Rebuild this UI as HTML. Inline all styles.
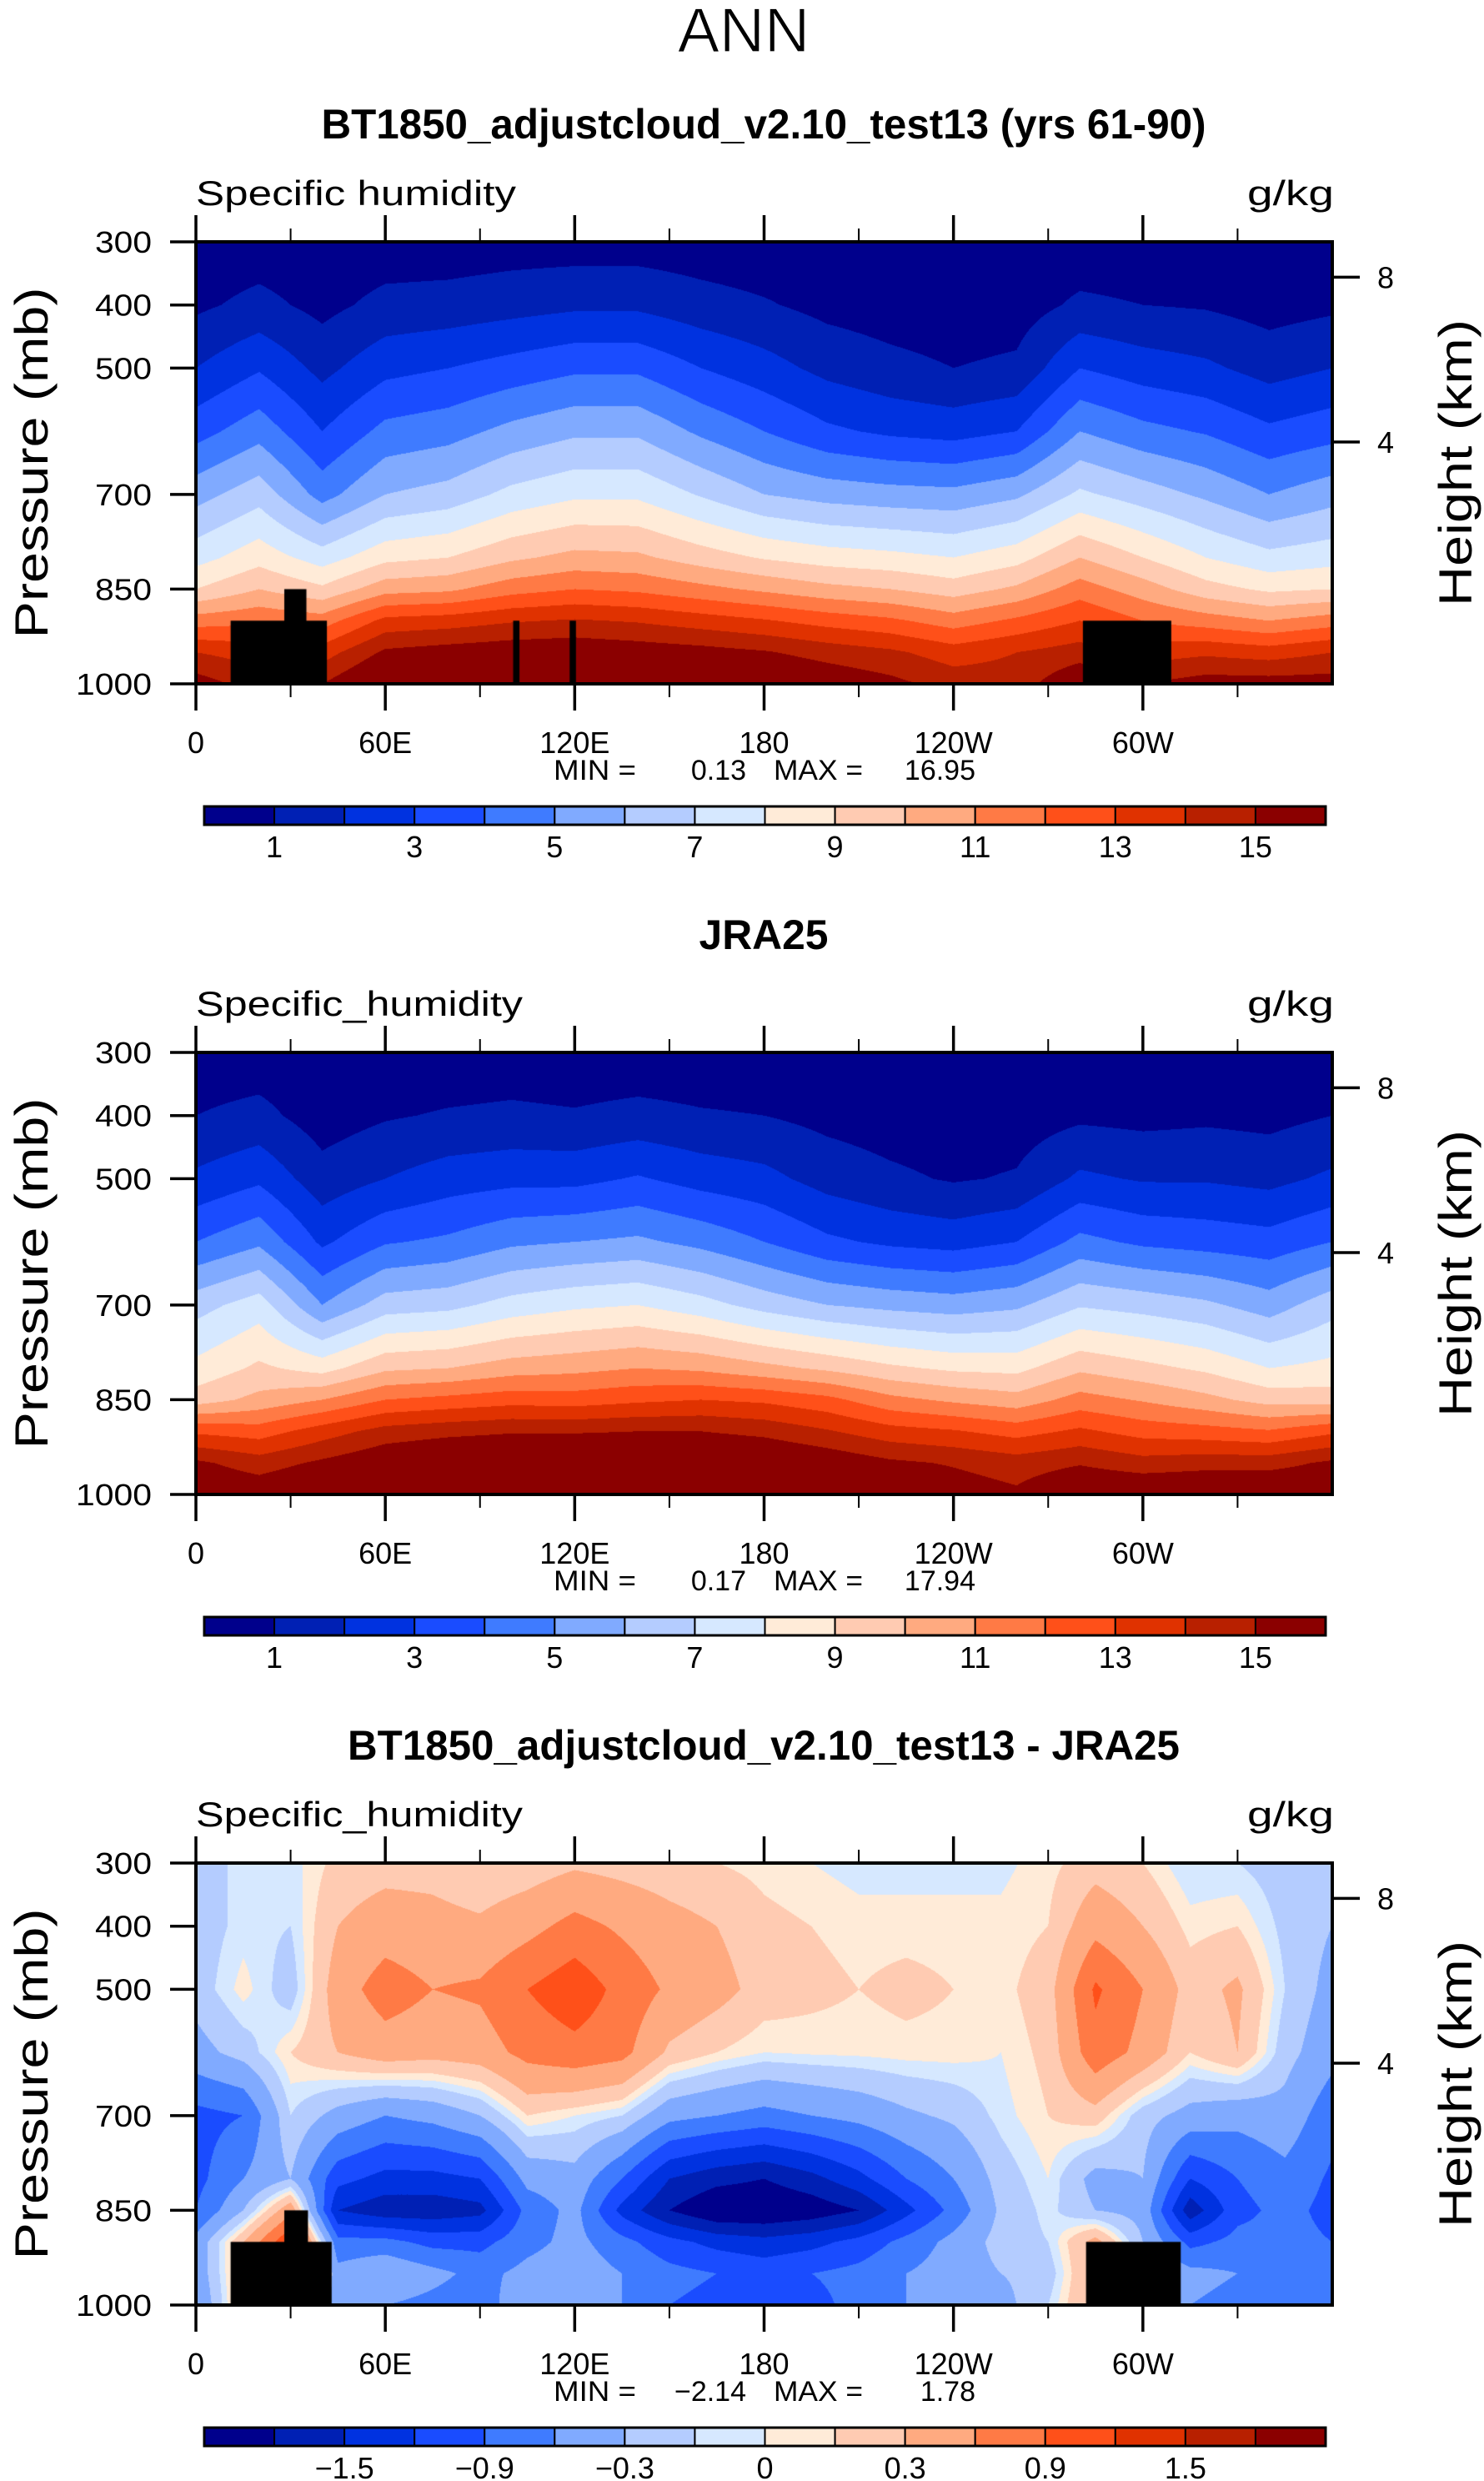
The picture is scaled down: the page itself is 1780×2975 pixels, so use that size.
<!DOCTYPE html>
<html><head><meta charset="utf-8">
<style>
html,body{margin:0;padding:0;background:#fff;}
body{width:1780px;height:2975px;position:relative;overflow:hidden;font-family:"Liberation Sans",sans-serif;}
canvas{position:absolute;}
svg{position:absolute;left:0;top:0;}
</style></head>
<body>
<canvas id="c0" width="1363" height="530" style="left:235px;top:290px"></canvas>
<canvas id="c1" width="1363" height="530" style="left:235px;top:1262px"></canvas>
<canvas id="c2" width="1363" height="530" style="left:235px;top:2234px"></canvas>
<svg id="ov" width="1780" height="2975" xmlns="http://www.w3.org/2000/svg">
<text x="892" y="62" font-size="75" text-anchor="middle" font-family="Liberation Sans, sans-serif" fill="#000" stroke="#fff" stroke-width="1.2">ANN</text>
</svg>
<script>
const lons=[0,20,40,60,80,100,120,140,160,180,200,220,240,260,280,300,320,340,360];
const pLevels=[300,400,500,600,700,800,850,900,950,1000];
const modelQ=[
[0.3,0.8,2.0,3.6,5.6,7.6,9.0,11.5,14.0,15.5],
[0.4,1.3,2.9,4.6,6.6,8.6,10.0,11.8,13.5,14.5],
[0.3,0.7,1.7,3.0,4.6,7.5,9.2,11.5,13.5,15.0],
[0.4,1.3,2.7,4.3,6.0,8.7,10.6,13.3,15.2,16.6],
[0.4,1.4,3.0,4.6,6.4,9.0,10.8,13.5,15.5,16.7],
[0.5,1.6,3.4,5.3,7.3,9.8,11.6,13.9,15.7,16.8],
[0.5,1.8,3.8,5.8,7.8,10.3,12.0,14.1,15.8,16.8],
[0.5,1.8,3.8,5.8,7.8,10.2,11.8,13.9,15.6,16.8],
[0.4,1.4,3.0,4.8,6.9,9.5,11.3,13.5,15.4,16.6],
[0.3,1.1,2.4,4.0,6.0,8.9,10.8,13.1,15.1,16.3],
[0.3,0.7,1.7,3.2,5.6,8.5,10.3,12.6,14.6,15.8],
[0.2,0.5,1.3,2.8,5.4,8.3,10.0,12.2,14.2,15.3],
[0.2,0.4,1.0,2.6,5.3,8.0,9.5,11.5,13.5,14.6],
[0.2,0.5,1.2,3.0,5.8,8.6,10.2,12.2,14.0,14.5],
[0.3,1.2,3.0,5.0,7.2,10.0,11.5,13.0,14.5,16.0],
[0.3,1.0,2.5,4.3,6.5,9.0,10.5,12.0,13.5,15.0],
[0.3,0.9,2.2,3.9,5.8,8.0,9.4,11.5,13.8,15.5],
[0.2,0.6,1.6,3.2,5.0,7.3,8.8,11.0,13.5,15.5],
[0.3,0.8,2.0,3.6,5.6,7.6,9.0,11.5,14.0,15.5]];
const obsQ=[
[0.4,1.0,2.2,4.0,6.6,8.3,9.5,12.8,15.2,16.1],
[0.4,1.3,2.8,4.8,7.5,9.2,10.3,12.5,14.5,15.8],
[0.3,0.5,1.4,2.8,5.0,8.6,11.0,13.5,15.2,16.4],
[0.3,0.9,2.0,3.9,6.5,9.8,12.0,14.4,15.9,17.1],
[0.3,1.1,2.5,4.2,6.7,10.0,12.3,14.7,16.3,17.2],
[0.4,1.2,2.7,4.8,7.4,10.5,12.6,14.9,16.4,17.2],
[0.3,1.1,2.7,5.0,7.8,10.7,12.5,14.9,16.4,17.2],
[0.3,1.3,3.1,5.2,8.0,11.0,12.8,15.0,16.4,17.3],
[0.3,1.1,2.6,4.7,7.4,10.8,13.0,15.0,16.5,17.4],
[0.3,1.0,2.3,4.0,6.6,10.3,12.8,14.7,16.3,17.3],
[0.3,0.7,1.6,3.2,6.0,9.8,12.3,14.1,15.8,16.7],
[0.2,0.5,1.2,2.8,5.7,9.2,11.3,13.4,15.2,16.1],
[0.2,0.4,0.9,2.6,5.5,8.8,10.8,13.1,14.9,15.6],
[0.2,0.5,1.1,3.0,5.8,8.7,10.4,12.6,14.5,15.2],
[0.2,0.8,2.2,4.3,6.9,9.8,11.4,13.2,14.9,16.2],
[0.2,0.7,1.9,3.8,6.6,9.3,10.9,12.6,14.4,16.2],
[0.3,0.8,1.9,3.6,6.2,8.8,10.3,12.4,14.6,16.3],
[0.3,0.7,1.7,3.4,5.5,8.0,9.6,12.1,14.6,16.3],
[0.4,1.0,2.2,4.0,6.6,8.3,9.5,12.8,15.2,16.1]];
const diffLons=[0,15,30,45,60,75,90,105,120,135,150,165,180,195,210,225,240,255,270,285,300,315,330,345,360];
const diffQ=[
[-0.2,-0.2,-0.2,-0.4,-1.0,-1.0,-0.9,-0.5,-0.5,-0.6],
[-0.05,-0.05,0.05,-0.2,-0.9,-0.6,-0.3,0.3,0.3,0.3],
[-0.05,-0.1,-0.2,0.1,-0.1,-0.3,0.5,1.2,1.2,1.2],
[0.15,0.3,0.45,0.3,-0.4,-1.1,-1.5,-0.8,-0.5,-0.6],
[0.2,0.45,0.75,0.45,-0.6,-1.3,-1.7,-0.8,-0.3,-0.6],
[0.2,0.4,0.6,0.4,-0.5,-1.3,-1.7,-1.0,-0.5,-0.7],
[0.1,0.35,0.65,0.45,-0.3,-1.2,-1.6,-1.0,-0.7,-0.8],
[0.15,0.5,0.9,0.7,0.1,-0.5,-0.8,-0.7,-0.5,-0.3],
[0.25,0.7,1.1,0.8,0.0,-0.4,-0.5,-0.5,-0.4,-0.4],
[0.2,0.55,0.8,0.7,-0.1,-0.9,-1.3,-0.8,-0.6,-0.6],
[0.15,0.4,0.55,0.25,-0.5,-1.5,-1.8,-1.1,-0.8,-0.9],
[0.1,0.3,0.4,0.1,-0.6,-1.7,-2.1,-1.3,-0.9,-1.0],
[0.05,0.15,0.2,0.0,-0.7,-1.8,-2.1,-1.4,-1.0,-1.0],
[0.0,0.1,0.15,0.02,-0.6,-1.6,-2.0,-1.3,-0.9,-1.0],
[-0.05,0.05,0.1,0.03,-0.5,-1.3,-1.8,-1.1,-0.8,-0.8],
[-0.05,0.05,0.15,0.05,-0.35,-0.9,-1.3,-0.8,-0.6,-0.6],
[-0.05,0.05,0.1,0.05,-0.25,-0.6,-0.8,-0.5,-0.45,-0.5],
[-0.03,0.03,0.05,0.0,-0.05,-0.2,-0.25,-0.2,-0.3,-0.4],
[0.05,0.1,0.2,0.15,0.1,0.0,-0.05,-0.1,-0.2,-0.1],
[0.2,0.5,0.95,0.8,0.2,-0.4,-0.3,0.4,0.4,0.4],
[0.1,0.3,0.6,0.5,-0.2,-0.3,-0.4,-0.3,-0.3,-0.3],
[-0.1,0.05,0.2,0.1,-0.4,-1.2,-1.7,-1.0,-0.5,-0.6],
[-0.1,0.1,0.35,0.3,-0.5,-0.9,-1.0,-0.8,-0.6,-0.7],
[-0.2,-0.15,-0.1,-0.2,-0.4,-0.7,-0.8,-0.8,-0.7,-0.8],
[-0.2,-0.3,-0.4,-0.5,-0.8,-0.95,-1.0,-0.9,-0.8,-0.9]];
const qLevels=[1,2,3,4,5,6,7,8,9,10,11,12,13,14,15];
const diffLevels=[-1.8,-1.5,-1.2,-0.9,-0.6,-0.3,-0.1,0,0.1,0.3,0.6,0.9,1.2,1.5,1.8];
const qBarLabels=['1','','3','','5','','7','','9','','11','','13','','15'];
const diffBarLabels=['','\u22121.5','','\u22120.9','','\u22120.3','','0','','0.3','','0.9','','1.5',''];
const palette=['#00008c','#0020b4','#0032e0','#1a4cff','#3f7bff','#80aaff','#b4ccff','#d6e8ff','#ffebd8','#ffcbb2','#ffaa80','#ff7a45','#ff5019','#e03200','#b82000','#8b0000'];
const topoModel=[[11,41.5,900],[28,35,850],[100.5,102.5,900],[118.4,120.4,900],[281,309,900]];
const topoObs=[];
const topoDiff=[[11,43,900],[28,35.5,850],[282,312,900]];
const pTicks=[300,400,500,700,850,1000];
const hTicks=['8','4'];
const hTickP=[356,617];
const lonMajor=[0,60,120,180,240,300];
const lonMinor=[30,90,150,210,270,330];
const lonLabels=['0','60E','120E','180','120W','60W'];
const minVals=['0.13','0.17','\u22122.14'];
const maxVals=['16.95','17.94','1.78'];

const X0=235,W=1363,H=530;
const NS='http://www.w3.org/2000/svg';
const svg=document.getElementById('ov');
function xOf(lon){return X0+lon/360*W;}
function mk(tag,attrs,txt){const e=document.createElementNS(NS,tag);for(const k in attrs)e.setAttribute(k,attrs[k]);if(txt!==undefined)e.textContent=txt;svg.appendChild(e);return e;}
function hexRgb(h){return [parseInt(h.substr(1,2),16),parseInt(h.substr(3,2),16),parseInt(h.substr(5,2),16)];}
const rgb=palette.map(hexRgb);

function drawField(cv,gl,grid,levels,topo){
  const ctx=cv.getContext('2d');const img=ctx.createImageData(W,H);const d=img.data;
  for(let py=0;py<H;py++){
    const p=300+(py+0.5)/H*700;
    let j=0;while(j<pLevels.length-2&&p>pLevels[j+1])j++;
    const ty=(p-pLevels[j])/(pLevels[j+1]-pLevels[j]);
    for(let px=0;px<W;px++){
      const lon=(px+0.5)/W*360;
      let i=0;while(i<gl.length-2&&lon>gl[i+1])i++;
      const tx=(lon-gl[i])/(gl[i+1]-gl[i]);
      const v=(grid[i][j]*(1-tx)+grid[i+1][j]*tx)*(1-ty)+(grid[i][j+1]*(1-tx)+grid[i+1][j+1]*tx)*ty;
      let c=0;while(c<levels.length&&v>=levels[c])c++;
      const k=(py*W+px)*4;const col=rgb[c];
      d[k]=col[0];d[k+1]=col[1];d[k+2]=col[2];d[k+3]=255;
    }
  }
  ctx.putImageData(img,0,0);
  ctx.fillStyle='#000';
  topo.forEach(t=>{const x0=t[0]/360*W,x1=t[1]/360*W,y0=(t[2]-300)/700*H;ctx.fillRect(x0,y0,x1-x0,H-y0);});
}

const panels=[
 {title:'BT1850_adjustcloud_v2.10_test13 (yrs 61-90)',tl:1061,left:'Specific humidity',ll:384,grid:modelQ,gl:lons,levels:qLevels,topo:topoModel,bar:qBarLabels},
 {title:'JRA25',tl:155,left:'Specific_humidity',ll:392,grid:obsQ,gl:lons,levels:qLevels,topo:topoObs,bar:qBarLabels},
 {title:'BT1850_adjustcloud_v2.10_test13 - JRA25',tl:998,left:'Specific_humidity',ll:392,grid:diffQ,gl:diffLons,levels:diffLevels,topo:topoDiff,bar:diffBarLabels}
];

panels.forEach((P,n)=>{
  const off=n*972, top=290+off, bot=top+H;
  drawField(document.getElementById('c'+n),P.gl,P.grid,P.levels,P.topo);
  let e;
  e=mk('text',{x:916,y:166+off,'font-size':50,'font-weight':'bold','text-anchor':'middle',textLength:P.tl,lengthAdjust:'spacingAndGlyphs'},P.title);
  
  
  e=mk('text',{x:235,y:246+off,'font-size':42,textLength:P.ll,lengthAdjust:'spacingAndGlyphs'},P.left);
  
  
  e=mk('text',{x:1496,y:246+off,'font-size':42,textLength:104,lengthAdjust:'spacingAndGlyphs'},'g/kg');
  
  
  lonMajor.forEach((lon,k)=>{
    const x=xOf(lon);
    e=mk('line',{x1:x,x2:x,y1:top-32,y2:top,stroke:'#000','stroke-width':3.5});
    
    
    e=mk('line',{x1:x,x2:x,y1:bot,y2:bot+32,stroke:'#000','stroke-width':3.5});
    
    
    e=mk('text',{x:x,y:bot+83,'font-size':36,'text-anchor':'middle'},lonLabels[k]);
    
    
  });
  lonMinor.forEach(lon=>{
    const x=xOf(lon);
    e=mk('line',{x1:x,x2:x,y1:top-16,y2:top,stroke:'#000','stroke-width':2});
    
    
    e=mk('line',{x1:x,x2:x,y1:bot,y2:bot+16,stroke:'#000','stroke-width':2});
    
    
  });
  pTicks.forEach(p=>{
    const y=top+(p-300)/700*H;
    e=mk('line',{x1:204,x2:235,y1:y,y2:y,stroke:'#000','stroke-width':3.5});
    
    
    const s=String(p);
    e=mk('text',{x:182,y:y+13,'font-size':36,'text-anchor':'end',textLength:s.length===4?91:68,lengthAdjust:'spacingAndGlyphs'},s);
    
    
  });
  hTicks.forEach((h,k)=>{
    const y=top+(hTickP[k]-300)/700*H;
    e=mk('line',{x1:1598,x2:1631,y1:y,y2:y,stroke:'#000','stroke-width':3.5});
    
    
    e=mk('text',{x:1652,y:y+13,'font-size':36},h);
    
    
  });
  e=mk('rect',{x:235,y:top,width:W,height:H,fill:'none',stroke:'#000','stroke-width':4});
  
  
  e=mk('text',{x:0,y:0,'font-size':56,'text-anchor':'middle',textLength:421,lengthAdjust:'spacingAndGlyphs',transform:'translate(57,'+(top+265)+') rotate(-90)'},'Pressure  (mb)');
  
  
  e=mk('text',{x:0,y:0,'font-size':56,'text-anchor':'middle',textLength:344,lengthAdjust:'spacingAndGlyphs',transform:'translate(1765,'+(top+265)+') rotate(-90)'},'Height  (km)');
  
  
  const my=935+off;
  e=mk('text',{x:664,y:my,'font-size':34,textLength:99,lengthAdjust:'spacingAndGlyphs'},'MIN =');
  
  
  e=mk('text',{x:895,y:my,'font-size':34,'text-anchor':'end'},minVals[n]);
  
  
  e=mk('text',{x:928,y:my,'font-size':34,textLength:107,lengthAdjust:'spacingAndGlyphs'},'MAX =');
  
  
  e=mk('text',{x:1170,y:my,'font-size':34,'text-anchor':'end'},maxVals[n]);
  
  
  const bx=245,bw=1345/16,by=967+off;
  palette.forEach((c,k)=>{
    e=mk('rect',{x:bx+k*bw,y:by,width:bw,height:22,fill:c,stroke:'#000','stroke-width':2});
    
    
  });
  e=mk('rect',{x:bx,y:by,width:1345,height:22,fill:'none',stroke:'#000','stroke-width':3});
  
  
  P.bar.forEach((lab,k)=>{
    if(!lab)return;
    e=mk('text',{x:bx+(k+1)*bw,y:1028+off,'font-size':36,'text-anchor':'middle'},lab);
    
    
  });
});
</script>
</body></html>
